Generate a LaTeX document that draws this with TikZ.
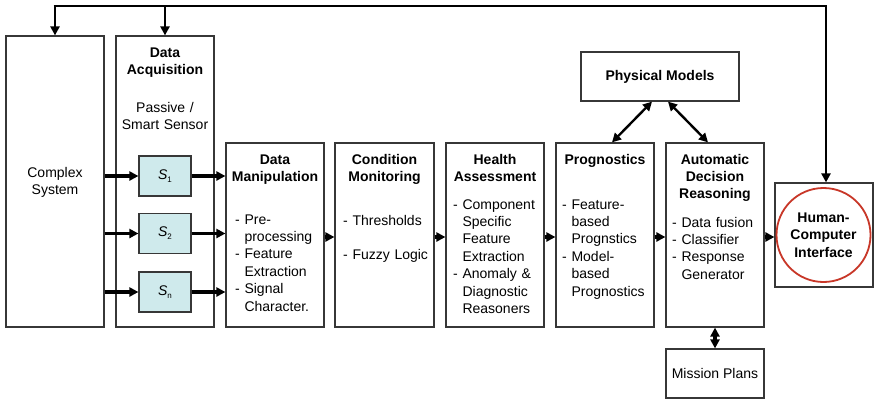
\documentclass[tikz,border=0pt]{standalone}
\usepackage{fontspec}
\setmainfont{Liberation Sans}
\usetikzlibrary{arrows.meta}
\definecolor{boxc}{RGB}{55,55,55}
\definecolor{sensc}{RGB}{207,234,236}
\definecolor{redc}{RGB}{200,55,40}
\begin{document}
\begin{tikzpicture}[x=1pt,y=-1pt,
  box/.style={draw=boxc,line width=1.2pt,inner sep=0pt,fill=white},
  sensor/.style={box,fill=sensc,minimum width=52pt,minimum height=40pt,font=\fontsize{14}{17.4}\selectfont},
  txt/.style={inner sep=0pt,font=\fontsize{14}{17.4}\selectfont},
  ttl/.style={inner sep=0pt,font=\fontsize{14}{17.4}\selectfont\bfseries,align=center,text width=96pt,anchor=base},
  ctr/.style={inner sep=0pt,font=\fontsize{14}{17.4}\selectfont,align=center,text width=96pt,anchor=base},
  lst/.style={inner sep=0pt,font=\fontsize{14}{17.4}\selectfont,align=left,text width=95pt,anchor=base west},
  arr/.style={line width=3.2pt,-{Triangle[length=9pt,width=9pt]}},
  dbl/.style={line width=2.4pt,{Triangle[length=9pt,width=9pt]}-{Triangle[length=9pt,width=9pt]}},
  loopl/.style={line width=2.6pt}
]
\useasboundingbox (0,0) rectangle (874,399);

% main boxes
\node[box,minimum width=98pt,minimum height=291pt] (cs) at (55,181.5) {};
\node[box,minimum width=98pt,minimum height=291pt] (da) at (165,181.5) {};
\node[box,minimum width=98pt,minimum height=184pt] (dm) at (275,235) {};
\node[box,minimum width=99pt,minimum height=184pt] (cm) at (384.5,235) {};
\node[box,minimum width=98pt,minimum height=184pt] (ha) at (495,235) {};
\node[box,minimum width=98pt,minimum height=184pt] (pg) at (605,235) {};
\node[box,minimum width=98pt,minimum height=184pt] (adr) at (715,235) {};
\node[box,minimum width=98pt,minimum height=104pt] (hcib) at (824,235) {};
\node[draw=redc,line width=1.8pt,circle,minimum size=94pt,inner sep=0pt,
      font=\fontsize{14}{17.4}\selectfont\bfseries,align=center] (hci) at (823.5,235) {Human-\\Computer\\Interface};
\node[box,minimum width=158pt,minimum height=49pt,font=\fontsize{14}{17.4}\selectfont\bfseries] (pm) at (660,76.5) {Physical Models};
\node[box,minimum width=98pt,minimum height=49pt,font=\fontsize{14}{17.4}\selectfont] (mp) at (715,373.5) {Mission Plans};

% sensors
\node[sensor] (s1) at (165,176) {\itshape S\raisebox{-3pt}{\upshape\fontsize{8}{8}\selectfont 1}};
\node[sensor] (s2) at (165,233.5) {\itshape S\raisebox{-3pt}{\upshape\fontsize{8}{8}\selectfont 2}};
\node[sensor] (sn) at (165,292) {\itshape S\raisebox{-3pt}{\upshape\fontsize{8}{8}\selectfont n}};

% texts
\node[ctr] (cst) at (55,177) {Complex\\System};
\node[ttl] (dat) at (165,57) {Data\\Acquisition};
\node[ctr] (pss) at (165,112) {Passive /\\Smart Sensor};
\node[ttl] (dmt) at (275,164) {Data\\Manipulation};
\node[ttl] (cmt) at (384.5,164) {Condition\\Monitoring};
\node[ttl] (hat) at (495,164) {Health\\Assessment};
\node[ttl] (pgt) at (605,164) {Prognostics};
\node[ttl] (adt) at (715,164) {Automatic\\Decision\\Reasoning};

\node[lst] (dml) at (235,224) {- Pre-\\\phantom{- }processing\\- Feature\\\phantom{- }Extraction\\- Signal\\\phantom{- }Character.};
\node[lst] (cml) at (343,225) {- Thresholds\\[17.4pt]- Fuzzy Logic};
\node[lst] (hal) at (453,209) {- Component\\\phantom{- }Specific\\\phantom{- }Feature\\\phantom{- }Extraction\\- Anomaly \&\\\phantom{- }Diagnostic\\\phantom{- }Reasoners};
\node[lst] (pgl) at (562,209) {- Feature-\\\phantom{- }based\\\phantom{- }Prognstics\\- Model-\\\phantom{- }based\\\phantom{- }Prognostics};
\node[lst] (adl) at (672,227) {- Data fusion\\- Classifier\\- Response\\\phantom{- }Generator};

% connectors
\draw[arr] (cs.east |- s1) -- (s1.west);
\draw[arr] (cs.east |- s2) -- (s2.west);
\draw[arr] (cs.east |- sn) -- (sn.west);
\draw[arr] (s1.east) -- (dm.west |- s1);
\draw[arr] (s2.east) -- (dm.west |- s2);
\draw[arr] (sn.east) -- (dm.west |- sn);
\draw[arr] ([yshift=-2pt]dm.east) -- ([yshift=-2pt]cm.west);
\draw[arr] ([yshift=-2pt]cm.east) -- ([yshift=-2pt]ha.west);
\draw[arr] ([yshift=-2pt]ha.east) -- ([yshift=-2pt]pg.west);
\draw[arr] ([yshift=-2pt]pg.east) -- ([yshift=-2pt]adr.west);
\draw[arr] ([yshift=-2pt]adr.east) -- ([yshift=-2pt]hcib.west);
\draw[dbl] ([xshift=-8pt]pm.south) -- ([xshift=7pt]pg.north);
\draw[dbl] ([xshift=8pt]pm.south) -- ([xshift=-7pt]adr.north);
\draw[dbl,line width=3.2pt] (adr.south) -- (mp.north);

\coordinate (top) at (0,6);
\draw[loopl,-{Triangle[length=9pt,width=9pt]}] (cs.north |- top) -- (cs.north);
\draw[loopl,-{Triangle[length=9pt,width=9pt]}] (da.north |- top) -- (da.north);
\draw[loopl,-{Triangle[length=9pt,width=9pt]}] ([xshift=-1.3pt]cs.north |- top) -- ([xshift=2pt]hcib.north |- top) -- ([xshift=2pt]hcib.north);
\end{tikzpicture}
\end{document}
